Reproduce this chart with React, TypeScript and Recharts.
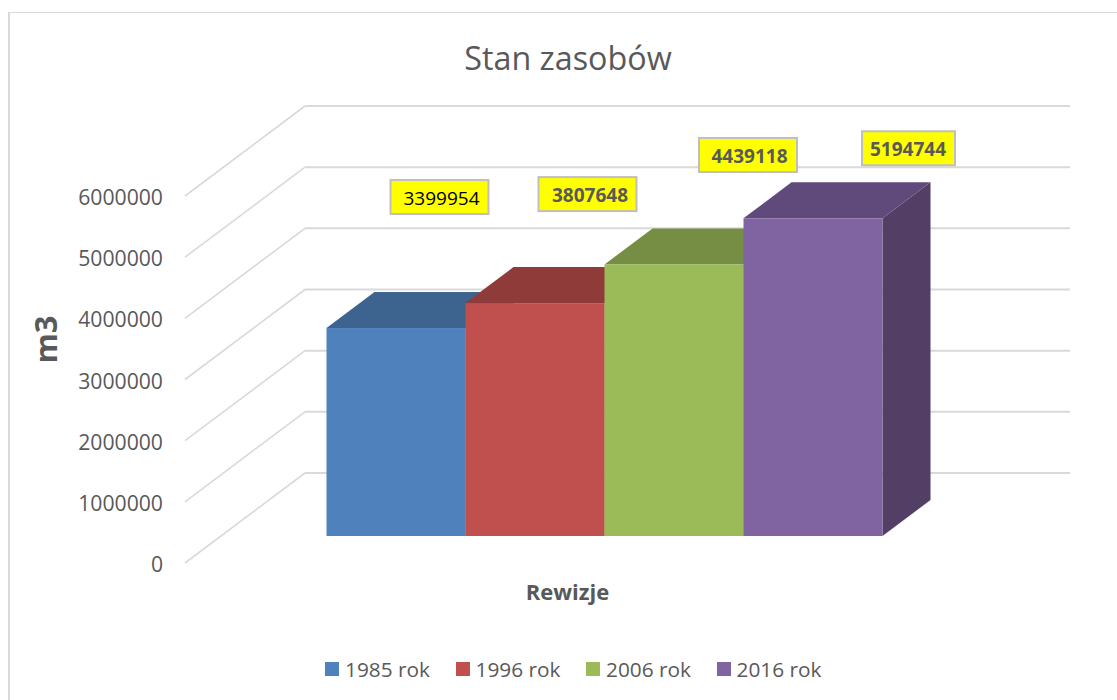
import React from 'react';
import { BarChart, Bar, XAxis, YAxis, CartesianGrid, Legend, LabelList } from 'recharts';

const categories = ['Rewizje'];
const seriesNames = ['1985 rok', '1996 rok', '2006 rok', '2016 rok'];
const seriesValues = [3399954, 3807648, 4439118, 5194744];
const yTicks = [0, 1000000, 2000000, 3000000, 4000000, 5000000, 6000000];

const frontColors = ['#4f81bd', '#c0504d', '#9bbb59', '#8064a2'];
const topColors = ['#3d648f', '#8f3b39', '#768d44', '#604a7b'];
const sideColors = ['#345578', '#7a3230', '#64773a', '#533f66'];

// label box placement relative to the top-left corner of each bar's front face
const labelBoxes = [
  { dx: 64, dy: -148, width: 98, inset: 13, color: '#000000', weight: 400 },
  { dx: 73, dy: -126, width: 98, inset: 13.5, color: '#595959', weight: 700 },
  { dx: 94.5, dy: -126.5, width: 98, inset: 12.5, color: '#595959', weight: 700 },
  { dx: 118.5, dy: -87, width: 93, inset: 8, color: '#595959', weight: 700 },
];

const FONT = '"Open Sans", sans-serif';
const TEXT = '#595959';
const GRID = '#d9d9d9';

// 3D projection: walls go back by (120, -90), bars stand a bit into the floor
const WALL_DX = 120;
const WALL_DY = -90;
const BAR_SHIFT_X = 36.5;
const BAR_SHIFT_Y = -27;
const DEPTH_X = 48;
const DEPTH_Y = -36;

const tableRow: Record<string, string | number> = { name: categories[0] };
seriesNames.forEach((s, i) => {
  tableRow[s] = seriesValues[i];
});
const data = [tableRow];

function Box3D(props: any) {
  const { x, y, width, height, index } = props;
  const i: number = props.seriesIndex ?? index;
  const fx = x + BAR_SHIFT_X;
  const fy = y + BAR_SHIFT_Y;
  const r = fx + width;
  const b = fy + height;
  return (
    <g>
      <polygon
        points={`${r},${fy} ${r + DEPTH_X},${fy + DEPTH_Y} ${r + DEPTH_X},${b + DEPTH_Y} ${r},${b}`}
        fill={sideColors[i]}
      />
      <polygon
        points={`${fx},${fy} ${fx + DEPTH_X},${fy + DEPTH_Y} ${r + DEPTH_X},${fy + DEPTH_Y} ${r},${fy}`}
        fill={topColors[i]}
      />
      <rect x={fx} y={fy} width={width} height={height} fill={frontColors[i]} />
    </g>
  );
}

function WallLine(props: any) {
  const { x1, x2, y1 } = props;
  return (
    <g key={`wall-${y1}`}>
      <line x1={x1} y1={y1} x2={x1 + WALL_DX} y2={y1 + WALL_DY} stroke={GRID} strokeWidth={1.6} />
      <line x1={x1 + WALL_DX} y1={y1 + WALL_DY} x2={x2 + WALL_DX} y2={y1 + WALL_DY} stroke={GRID} strokeWidth={2} />
    </g>
  );
}

function makeValueLabel(i: number) {
  return function ValueLabel(props: any) {
    const { x, y, value } = props;
    const box = labelBoxes[i];
    const left = x + BAR_SHIFT_X + box.dx;
    const top = y + BAR_SHIFT_Y + box.dy;
    return (
      <g>
        <rect x={left} y={top} width={box.width} height={34} fill="#ffff00" stroke="#bfbfbf" strokeWidth={2} />
        <text
          x={left + box.inset}
          y={top + 25}
          fontFamily={FONT}
          fontSize={19}
          fontWeight={box.weight}
          fill={box.color}
        >
          {value}
        </text>
      </g>
    );
  };
}

function LegendRow(props: any) {
  const items = props.payload || [];
  return (
    <div style={{ display: 'flex', height: 28, alignItems: 'center', fontFamily: FONT, fontSize: 20.8, color: TEXT }}>
      {items.map((item: any) => (
        <div key={item.value} style={{ width: 130.5, flex: 'none', display: 'flex', alignItems: 'center' }}>
          <span style={{ width: 14, height: 14, background: item.color, marginRight: 6, display: 'inline-block' }} />
          <span>{item.value}</span>
        </div>
      ))}
    </div>
  );
}

export default function App() {
  return (
    <div style={{ position: 'absolute', left: 0, top: 0, width: 1117, height: 700, overflow: 'hidden', background: '#fff' }}>
      <div
        style={{
          position: 'absolute',
          left: 8,
          top: 12,
          width: 1200,
          height: 800,
          borderLeft: `2px solid ${GRID}`,
          borderTop: `1.5px solid ${GRID}`,
        }}
      />
      <div
        style={{
          position: 'absolute',
          left: 0,
          width: 1136,
          top: 35,
          textAlign: 'center',
          fontFamily: FONT,
          fontSize: 32.3,
          lineHeight: '44px',
          color: TEXT,
        }}
      >
        Stan zasobów
      </div>
      <BarChart
        width={1117}
        height={700}
        data={data}
        margin={{ top: 196, right: 167, bottom: 64, left: 40 }}
        barSize={139}
        barGap={0}
        style={{ position: 'absolute', left: 0, top: 0 }}
      >
        <CartesianGrid vertical={false} horizontal={WallLine as any} />
        <XAxis
          dataKey="name"
          height={45}
          tick={false}
          axisLine={false}
          tickLine={false}
          label={{
            value: categories[0],
            position: 'insideTop',
            dy: 16,
            style: { fontFamily: FONT, fontSize: 22, fontWeight: 700, fill: TEXT },
          }}
        />
        <YAxis
          width={145}
          domain={[0, 6000000]}
          ticks={yTicks}
          interval={0}
          axisLine={false}
          tickLine={false}
          tickSize={0}
          tickMargin={22}
          tick={{ fontFamily: FONT, fontSize: 21.2, fill: TEXT, dy: 1.5 }}
          label={{
            value: 'm3',
            angle: -90,
            position: 'insideLeft',
            dx: 1,
            dy: -40,
            style: { fontFamily: FONT, fontSize: 31, fontWeight: 700, fill: TEXT, textAnchor: 'middle' },
          }}
        />
        {seriesNames.map((name, i) => (
          <Bar
            key={name}
            dataKey={name}
            fill={frontColors[i]}
            isAnimationActive={false}
            shape={(p: any) => <Box3D {...p} seriesIndex={i} />}
          >
            <LabelList dataKey={name} content={makeValueLabel(i)} />
          </Bar>
        ))}
        <Legend
          content={<LegendRow />}
          wrapperStyle={{ left: 325, width: 560, bottom: 17 }}
        />
      </BarChart>
    </div>
  );
}
